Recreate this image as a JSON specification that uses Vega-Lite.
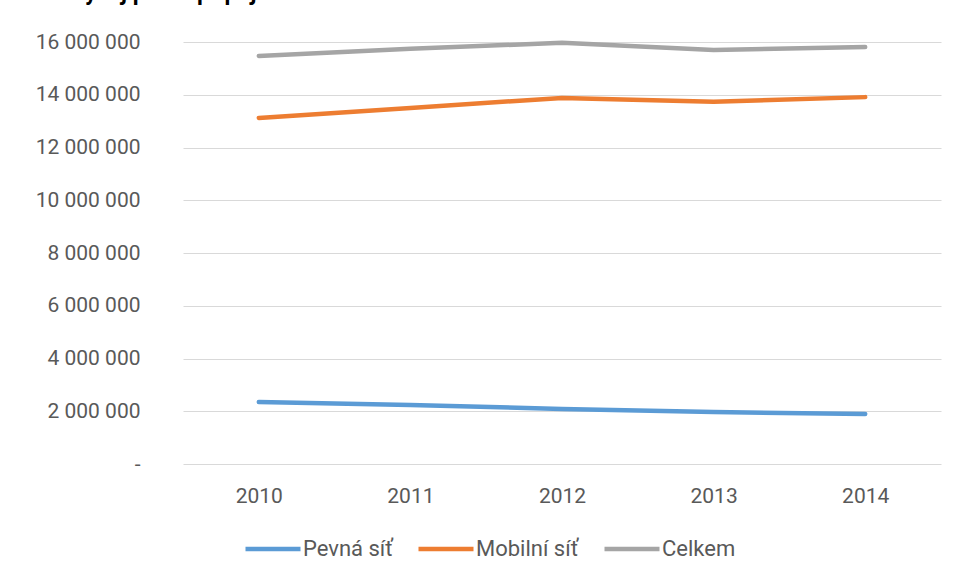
{
  "$schema": "https://vega.github.io/schema/vega-lite/v6.json",
  "autosize": {"type": "none"},
  "width": 758,
  "height": 422,
  "padding": {"left": 183, "top": 42, "right": 18, "bottom": 118},
  "background": "#ffffff",
  "config": {
    "view": {"stroke": null},
    "locale": {"number": {"decimal": ",", "thousands": " ", "grouping": [3], "currency": ["", " Kč"]}},
    "font": "Roboto"
  },
  "title": {
    "text": "Vývoj počtu přípojek",
    "anchor": "start",
    "frame": "group",
    "dx": -113,
    "offset": 8,
    "baseline": "alphabetic",
    "font": "Roboto",
    "fontSize": 23,
    "fontWeight": "bold",
    "color": "#000000"
  },
  "data": {
    "values": [
      {"rok": "2010", "serie": "Pevná síť", "pocet": 2350000},
      {"rok": "2011", "serie": "Pevná síť", "pocet": 2240000},
      {"rok": "2012", "serie": "Pevná síť", "pocet": 2090000},
      {"rok": "2013", "serie": "Pevná síť", "pocet": 1970000},
      {"rok": "2014", "serie": "Pevná síť", "pocet": 1900000},
      {"rok": "2010", "serie": "Mobilní síť", "pocet": 13120000},
      {"rok": "2011", "serie": "Mobilní síť", "pocet": 13500000},
      {"rok": "2012", "serie": "Mobilní síť", "pocet": 13880000},
      {"rok": "2013", "serie": "Mobilní síť", "pocet": 13730000},
      {"rok": "2014", "serie": "Mobilní síť", "pocet": 13910000},
      {"rok": "2010", "serie": "Celkem", "pocet": 15470000},
      {"rok": "2011", "serie": "Celkem", "pocet": 15740000},
      {"rok": "2012", "serie": "Celkem", "pocet": 15970000},
      {"rok": "2013", "serie": "Celkem", "pocet": 15700000},
      {"rok": "2014", "serie": "Celkem", "pocet": 15810000}
    ]
  },
  "mark": {"type": "line", "strokeWidth": 4.5, "strokeCap": "round", "strokeJoin": "round"},
  "encoding": {
    "x": {
      "field": "rok",
      "type": "ordinal",
      "scale": {"type": "point", "padding": 0.5},
      "axis": {
        "title": null,
        "labelAngle": 0,
        "domain": false,
        "ticks": false,
        "grid": false,
        "labelFont": "Roboto",
        "labelFontSize": 21,
        "labelColor": "#595959",
        "labelPadding": 21
      }
    },
    "y": {
      "field": "pocet",
      "type": "quantitative",
      "scale": {"domain": [0, 16000000], "nice": false},
      "axis": {
        "title": null,
        "values": [0, 2000000, 4000000, 6000000, 8000000, 10000000, 12000000, 14000000, 16000000],
        "format": ",.0f",
        "labelExpr": "datum.value == 0 ? '-\u00a0\u00a0' : datum.label",
        "domain": false,
        "ticks": false,
        "grid": true,
        "gridColor": "#D9D9D9",
        "gridWidth": 1.2,
        "labelFont": "Roboto",
        "labelFontSize": 21,
        "labelColor": "#595959",
        "labelPadding": 43
      }
    },
    "color": {
      "field": "serie",
      "type": "nominal",
      "scale": {"domain": ["Pevná síť", "Mobilní síť", "Celkem"], "range": ["#5B9BD5", "#ED7D31", "#A5A5A5"]},
      "legend": {
        "title": null,
        "orient": "none",
        "legendX": 60,
        "legendY": 477,
        "direction": "horizontal",
        "symbolType": "stroke",
        "symbolSize": 3025,
        "symbolStrokeWidth": 4.5,
        "labelFont": "Roboto",
        "labelFontSize": 22,
        "labelColor": "#595959",
        "labelOffset": 0,
        "columnPadding": 16
      }
    }
  }
}
